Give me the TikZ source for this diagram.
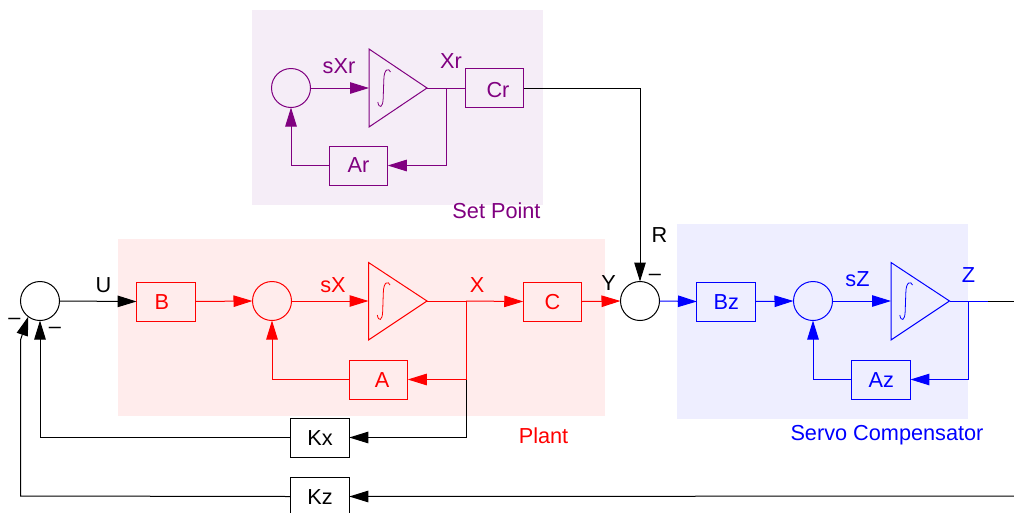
\documentclass[tikz,border=0pt]{standalone}
\usepackage{fontspec}
\setmainfont{Liberation Sans}
\usetikzlibrary{arrows.meta}
\definecolor{pur}{HTML}{800080}
\definecolor{rd}{HTML}{FF0000}
\definecolor{bl}{HTML}{0000FF}
\definecolor{bgpur}{HTML}{F5EDF7}
\definecolor{bgrd}{HTML}{FFECEC}
\definecolor{bgbl}{HTML}{EEEEFF}
\tikzset{
  every node/.style={font=\fontsize{21.7}{24}\selectfont},
  wire/.style={line width=1pt},
  flow/.style={line width=1pt,-{Triangle[length=19pt,width=11.5pt]}},
  blockbox/.style={draw,line width=1pt,minimum width=58.5pt,minimum height=39pt,inner sep=0pt,outer sep=0pt,text height=15.5pt,text depth=0pt},
  summer/.style={draw,circle,line width=1pt,minimum size=39pt,inner sep=0pt,outer sep=0pt},
  integ/.style={line width=1pt,line join=miter},
  lbl/.style={inner sep=0pt,text height=15.5pt,text depth=0pt},
  intsign/.style={line width=0.8pt},
}
\newcommand{\intpath}{(21.5,-16) .. controls (20,-20) and (15,-20) .. (14.8,-8) -- (14.2,10) .. controls (14,20) and (10,21) .. (8.8,14)}
\begin{document}
\begin{tikzpicture}[x=1pt,y=-1pt]
\useasboundingbox (0,0) rectangle (1014,512);
% backgrounds
\fill[bgpur] (252,10) rectangle (543,205);
\fill[bgrd] (118,239) rectangle (605,416);
\fill[bgbl] (677,224) rectangle (968,419);

% set point
\begin{scope}[color=pur,every node/.append style={color=pur}]
\node[summer] (sr) at (291,88) {};
\coordinate (irin) at (369,88);
\coordinate (irtip) at (427,88);
\draw[integ] (369,49) -- (irtip) -- (369,127) -- cycle;
\node[blockbox] (cr) at (494.5,88) {\hspace*{7pt}\raisebox{-2pt}{Cr}};
\node[blockbox] (ar) at (358.5,165.5) {\raisebox{1pt}{Ar}};
\coordinate (jr) at (446.5,88);
\coordinate (cor1) at (446.5,165.5);
\coordinate (cor2) at (291,165.5);
\draw[flow] (sr) -- (irin);
\draw[wire] (irtip) -- (cr.west);
\draw[flow] (jr) -- (cor1) -- (ar.east);
\draw[flow] (ar.west) -- (cor2) -- (sr.south);
\draw[intsign,shift={(irin)}] \intpath;
\node[lbl] (lsxr) at (339,65.5) {sXr};
\node[lbl] (lxr) at (451,61) {Xr};
\node[lbl] (lsp) at (496.5,211) {Set Point};
\end{scope}

% plant
\begin{scope}[color=rd,every node/.append style={color=rd}]
\node[blockbox] (b) at (165.8,301.5) {\hspace*{-8pt}B};
\node[summer] (sp) at (272,301) {};
\coordinate (ipin) at (368.5,301);
\coordinate (iptip) at (427,301);
\draw[integ] (368.5,262.5) -- (iptip) -- (368.5,340) -- cycle;
\node[blockbox] (c) at (552.5,301.5) {C};
\node[blockbox] (a) at (378.5,379.5) {\hspace*{7pt}A};
\coordinate (jp) at (466,301);
\coordinate (jq) at (466,379.5);
\coordinate (cor3) at (272,379.5);
\draw[flow] (b.east) -- (sp.west);
\draw[flow] (sp.east) -- (ipin);
\draw[wire] (iptip) -- (jp);
\draw[flow] (jp) -- (c.west);
\draw[flow] (jp) -- (jq) -- (a.east);
\draw[flow] (a.west) -- (cor3) -- (sp.south);
\draw[intsign,shift={(ipin)}] \intpath;
\node[lbl] (lsx) at (333,285) {sX};
\node[lbl] (lx) at (477,285) {X};
\node[lbl] (lpl) at (543.5,436) {Plant};
\end{scope}

% servo
\node[summer,fill=white] (sy) at (640,301) {};
\draw[flow,rd] (c.east) -- (sy.west);
\begin{scope}[color=bl,every node/.append style={color=bl}]
\node[blockbox] (bz) at (726.2,301.5) {Bz};
\node[summer] (sz) at (813,301) {};
\coordinate (izin) at (891,301);
\coordinate (iztip) at (949.5,301);
\draw[integ] (891,262.5) -- (iztip) -- (891,340) -- cycle;
\node[blockbox] (az) at (881.2,379.5) {Az};
\coordinate (jz) at (968.5,301);
\coordinate (cor4) at (968.5,379.5);
\coordinate (cor5) at (813,379.5);
\coordinate (zsplit) at (988,301);
\draw[flow] (sy.east) -- (bz.west);
\draw[flow] (bz.east) -- (sz.west);
\draw[flow] (sz.east) -- (izin);
\draw[wire] (iztip) -- (zsplit);
\draw[flow] (jz) -- (cor4) -- (az.east);
\draw[flow] (az.west) -- (cor5) -- (sz.south);
\draw[intsign,shift={(izin)}] \intpath;
\node[lbl] (lsz) at (857.5,279) {sZ};
\node[lbl] (lz) at (968.5,275) {Z};
\node[lbl] (lsc) at (887,433) {Servo Compensator};
\end{scope}

% black parts
\node[summer,fill=white] (s0) at (40,301) {};
\node[blockbox] (kx) at (320,437.5) {Kx};
\node[blockbox] (kz) at (320,496.5) {Kz};
\coordinate (zend) at (1014,301);
\coordinate (zin) at (1014,496);
\coordinate (cor6) at (640,88);
\coordinate (cor7) at (466,437.5);
\coordinate (cor8) at (40,437.5);
\coordinate (cor9) at (20.5,496);
\coordinate (cor10) at (20.5,340);
\draw[flow] (s0.east) -- (b.west);
\draw[flow] (cr.east) -- (cor6) -- (sy.north);
\draw[flow] (jq) -- (cor7) -- (kx.east);
\draw[flow] (kx.west) -- (cor8) -- (s0.south);
\draw[wire] (zsplit) -- (zend);
\draw[flow] (zin) -- (kz.east);
\draw[flow] (kz.west) -- (cor9) -- (cor10) -- (s0.233);
\node[lbl] (lu) at (103.5,285) {U};
\node[lbl] (ly) at (608.5,282.5) {Y};
\node[lbl] (lr) at (659.5,235) {R};
\node[inner sep=0pt] (m1) at (14.5,321) {–};
\node[inner sep=0pt] (m2) at (55,330) {–};
\node[inner sep=0pt] (m3) at (655,277) {–};
\end{tikzpicture}
\end{document}
